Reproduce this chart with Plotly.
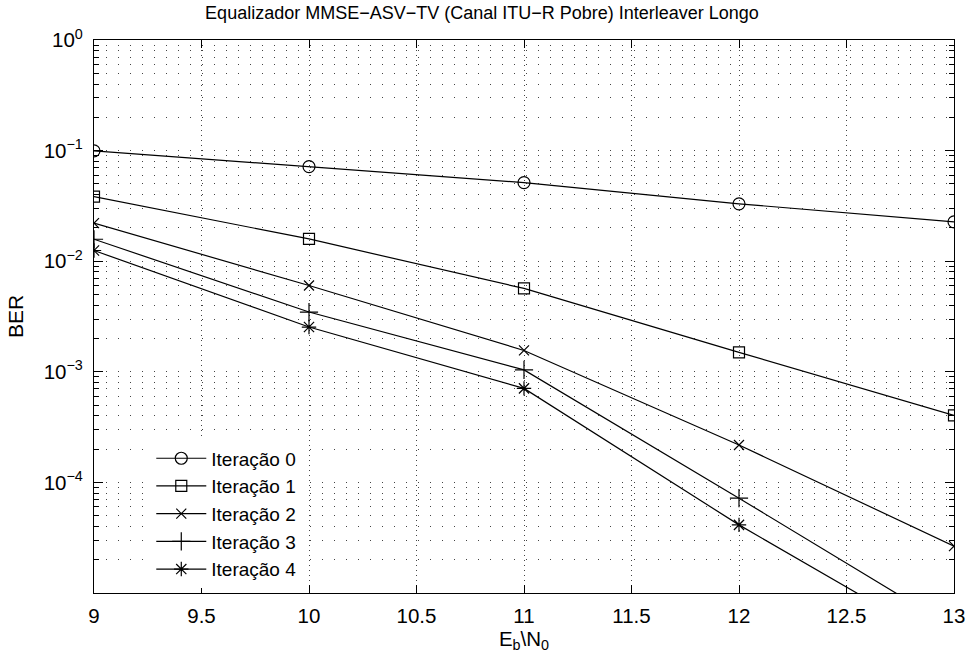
import plotly.graph_objects as go

ebn0 = [9, 10, 11, 12, 13]
it0 = [0.0995, 0.0717, 0.0514, 0.033, 0.0227]
it1 = [0.0384, 0.0159, 0.00567, 0.0015, 0.000404]
it2 = [0.0221, 0.00603, 0.00156, 0.000218, 0.0000265]
it3 = [0.0158, 0.00347, 0.00104, 0.000072, 0.0000048]
it4 = [0.0125, 0.00254, 0.000708, 0.0000413, 0.0000031]

series = [
    ("Iteração 0", it0, "circle-open", 12),
    ("Iteração 1", it1, "square-open", 11),
    ("Iteração 2", it2, "x-thin-open", 10),
    ("Iteração 3", it3, "cross-thin-open", 13),
    ("Iteração 4", it4, "asterisk-open", 12),
]

ytick_vals = [1, 0.1, 0.01, 0.001, 0.0001]
ytick_text = ["10<sup>0</sup>", "10<sup>−1</sup>", "10<sup>−2</sup>", "10<sup>−3</sup>", "10<sup>−4</sup>"]
xtick_vals = [9, 9.5, 10, 10.5, 11, 11.5, 12, 12.5, 13]

FONT = "Liberation Sans, Arial, Helvetica, sans-serif"

fig = go.Figure()
for name, vals, sym, sz in series:
    fig.add_trace(go.Scatter(
        x=ebn0, y=vals, name=name, mode="lines+markers",
        line=dict(color="black", width=1.2),
        marker=dict(symbol=sym, size=sz, color="black", line=dict(color="black", width=1.2)),
        cliponaxis=True,
    ))

fig.update_layout(
    width=977, height=663,
    margin=dict(l=94, r=16, t=40, b=70),
    paper_bgcolor="white", plot_bgcolor="white",
    font=dict(family=FONT, size=20, color="black"),
    title=dict(text="Equalizador MMSE−ASV−TV (Canal ITU−R Pobre) Interleaver Longo",
               x=482/977, xref="container", xanchor="center",
               y=1 - 13/663, yref="container", yanchor="middle",
               font=dict(size=18)),
    showlegend=True,
    legend=dict(x=0.0666, y=0.0083, xanchor="left", yanchor="bottom",
                bgcolor="white", borderwidth=0, font=dict(size=19),
                itemwidth=50, tracegroupgap=0),
)

fig.update_xaxes(
    range=[9, 13], tickvals=xtick_vals, ticktext=[f"{v:g}" for v in xtick_vals],
    ticks="inside", ticklen=8, tickwidth=1, tickcolor="black",
    showline=True, linecolor="black", linewidth=1.2, mirror="ticks",
    showgrid=True, gridcolor="#444", gridwidth=1, griddash="1px,4px",
    zeroline=False, ticklabelstandoff=4,
    title=dict(text="E<sub>b</sub>\\N<sub>0</sub>", standoff=4, font=dict(size=20.5)),
    tickfont=dict(size=20.5),
)

fig.update_yaxes(
    type="log", range=[-5, 0],
    tickmode="array", tickvals=ytick_vals, ticktext=ytick_text,
    ticks="inside", ticklen=9, tickwidth=1, tickcolor="black",
    showline=True, linecolor="black", linewidth=1.2, mirror="ticks",
    showgrid=True, gridcolor="#444", gridwidth=1, griddash="1px,11px",
    zeroline=False, ticklabelstandoff=6,
    minor=dict(dtick="D1", ticks="inside", ticklen=5, tickcolor="black",
               showgrid=True, gridcolor="#444", gridwidth=1, griddash="1px,11px"),
    title=dict(text="BER", standoff=14, font=dict(size=21)),
    tickfont=dict(size=20.5),
)

fig.write_html("out.html")
